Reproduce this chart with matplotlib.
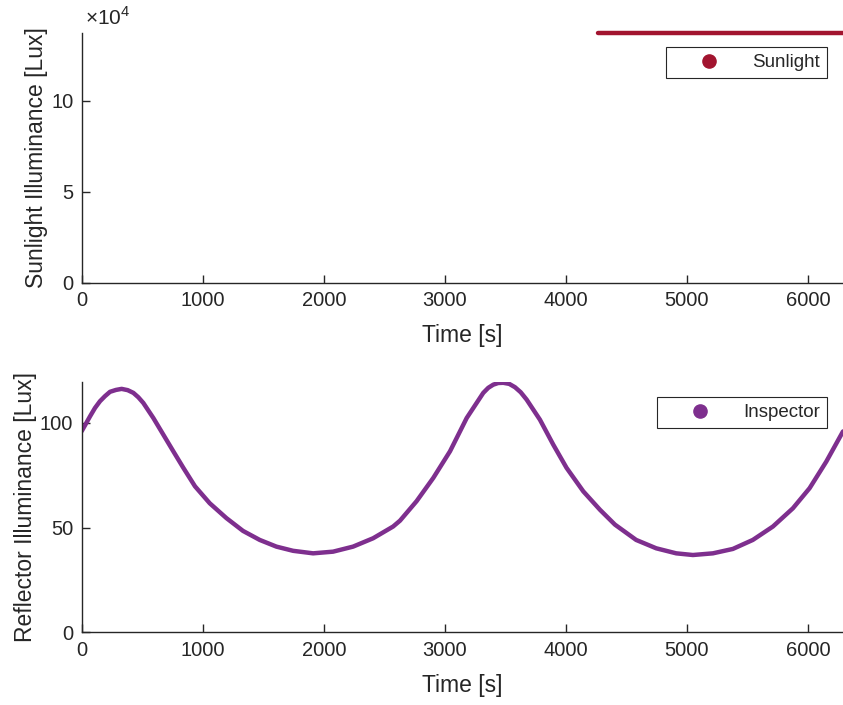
import matplotlib
matplotlib.use("Agg")
import matplotlib.pyplot as plt
from matplotlib.lines import Line2D

# sunlit part of the orbit (eclipse before that, not drawn)
sun_time = [4265, 6290]
sun_lux = [137200, 137200]

# reflector illuminance seen by the inspector
refl_time = [0, 69, 110, 151, 192, 234, 283, 330, 380, 427, 468, 509, 592,
             674, 757, 840, 936, 1058, 1196, 1333, 1471, 1609, 1747, 1912,
             2077, 2242, 2408, 2573, 2630, 2767, 2905, 3043, 3181, 3318,
             3359, 3400, 3441, 3483, 3532, 3580, 3627, 3676, 3786, 3896,
             4006, 4144, 4282, 4406, 4581, 4747, 4912, 5050, 5215, 5380,
             5545, 5711, 5876, 6014, 6152, 6290]
refl_lux = [96.0, 103.1, 107.1, 110.3, 112.7, 114.8, 115.7, 116.2, 115.6,
            114.3, 112.2, 109.5, 102.3, 94.4, 86.4, 78.5, 69.7, 61.6, 54.5,
            48.4, 44.1, 40.9, 38.9, 37.7, 38.5, 40.9, 44.9, 50.5, 53.3,
            62.6, 73.7, 86.4, 102.3, 114.3, 116.7, 118.2, 119.0, 119.1,
            118.6, 117.0, 114.6, 111.1, 101.5, 89.6, 78.5, 67.3, 58.5,
            51.4, 44.1, 40.1, 37.7, 36.9, 37.7, 39.8, 44.1, 50.5, 59.2,
            68.8, 81.5, 95.9]

sun_color = '#A2142F'
refl_color = '#7E2F8E'
ink = '#262626'

plt.rcParams['font.family'] = ['Liberation Sans', 'DejaVu Sans']
plt.rcParams['mathtext.fontset'] = 'custom'
plt.rcParams['mathtext.rm'] = 'Liberation Sans'
plt.rcParams['text.color'] = ink
plt.rcParams['axes.labelcolor'] = ink


def style_axes(ax, xmax):
    ax.spines['top'].set_visible(False)
    ax.spines['right'].set_visible(False)
    for s in ['left', 'bottom']:
        ax.spines[s].set_color(ink)
        ax.spines[s].set_linewidth(1.0)
    ax.tick_params(direction='in', length=6, width=1.0, colors=ink,
                   labelsize=14.5, pad=6)
    ax.set_xlim(0, xmax)
    ax.set_xticks([0, 1000, 2000, 3000, 4000, 5000, 6000])
    ax.set_xlabel('Time [s]', fontsize=16.5, labelpad=10)


fig = plt.figure(figsize=(8.43, 7.05), dpi=100)
ax1 = fig.add_axes([0.0969, 0.5986, 0.9031, 0.3546])
ax2 = fig.add_axes([0.0969, 0.1031, 0.9031, 0.3551])

ax1.plot(sun_time, sun_lux, color=sun_color, linewidth=3.2,
         solid_capstyle='round', clip_on=False)
style_axes(ax1, 6290)
ax1.set_ylim(0, 137200)
ax1.set_yticks([0, 50000, 100000])
ax1.set_yticklabels(['0', '5', '10'])
ax1.text(0.004, 1.015, '×10$^{4}$', transform=ax1.transAxes,
         fontsize=15, ha='left', va='bottom', color=ink)
ax1.set_ylabel('Sunlight Illuminance [Lux]', fontsize=16.5, labelpad=2)

ax2.plot(refl_time, refl_lux, color=refl_color, linewidth=3.2,
         solid_capstyle='round', solid_joinstyle='round')
style_axes(ax2, 6290)
ax2.set_ylim(0, 119.5)
ax2.set_yticks([0, 50, 100])
ax2.set_ylabel('Reflector Illuminance [Lux]', fontsize=16.5, labelpad=2)


def add_legend(ax, color, label, top):
    h = Line2D([], [], linestyle='none', marker='o', markersize=9.5,
               color=color)
    leg = ax.legend(handles=[h], labels=[label], loc='upper right',
                    bbox_to_anchor=(0.979, top), borderaxespad=0,
                    fontsize=13.5, fancybox=False, framealpha=1,
                    borderpad=0.38, handlelength=3.8, handletextpad=0.4)
    leg.get_frame().set_edgecolor(ink)
    leg.get_frame().set_linewidth(0.8)


add_legend(ax1, sun_color, 'Sunlight', 0.944)
add_legend(ax2, refl_color, 'Inspector', 0.940)

fig.savefig('out.png', dpi=100)
